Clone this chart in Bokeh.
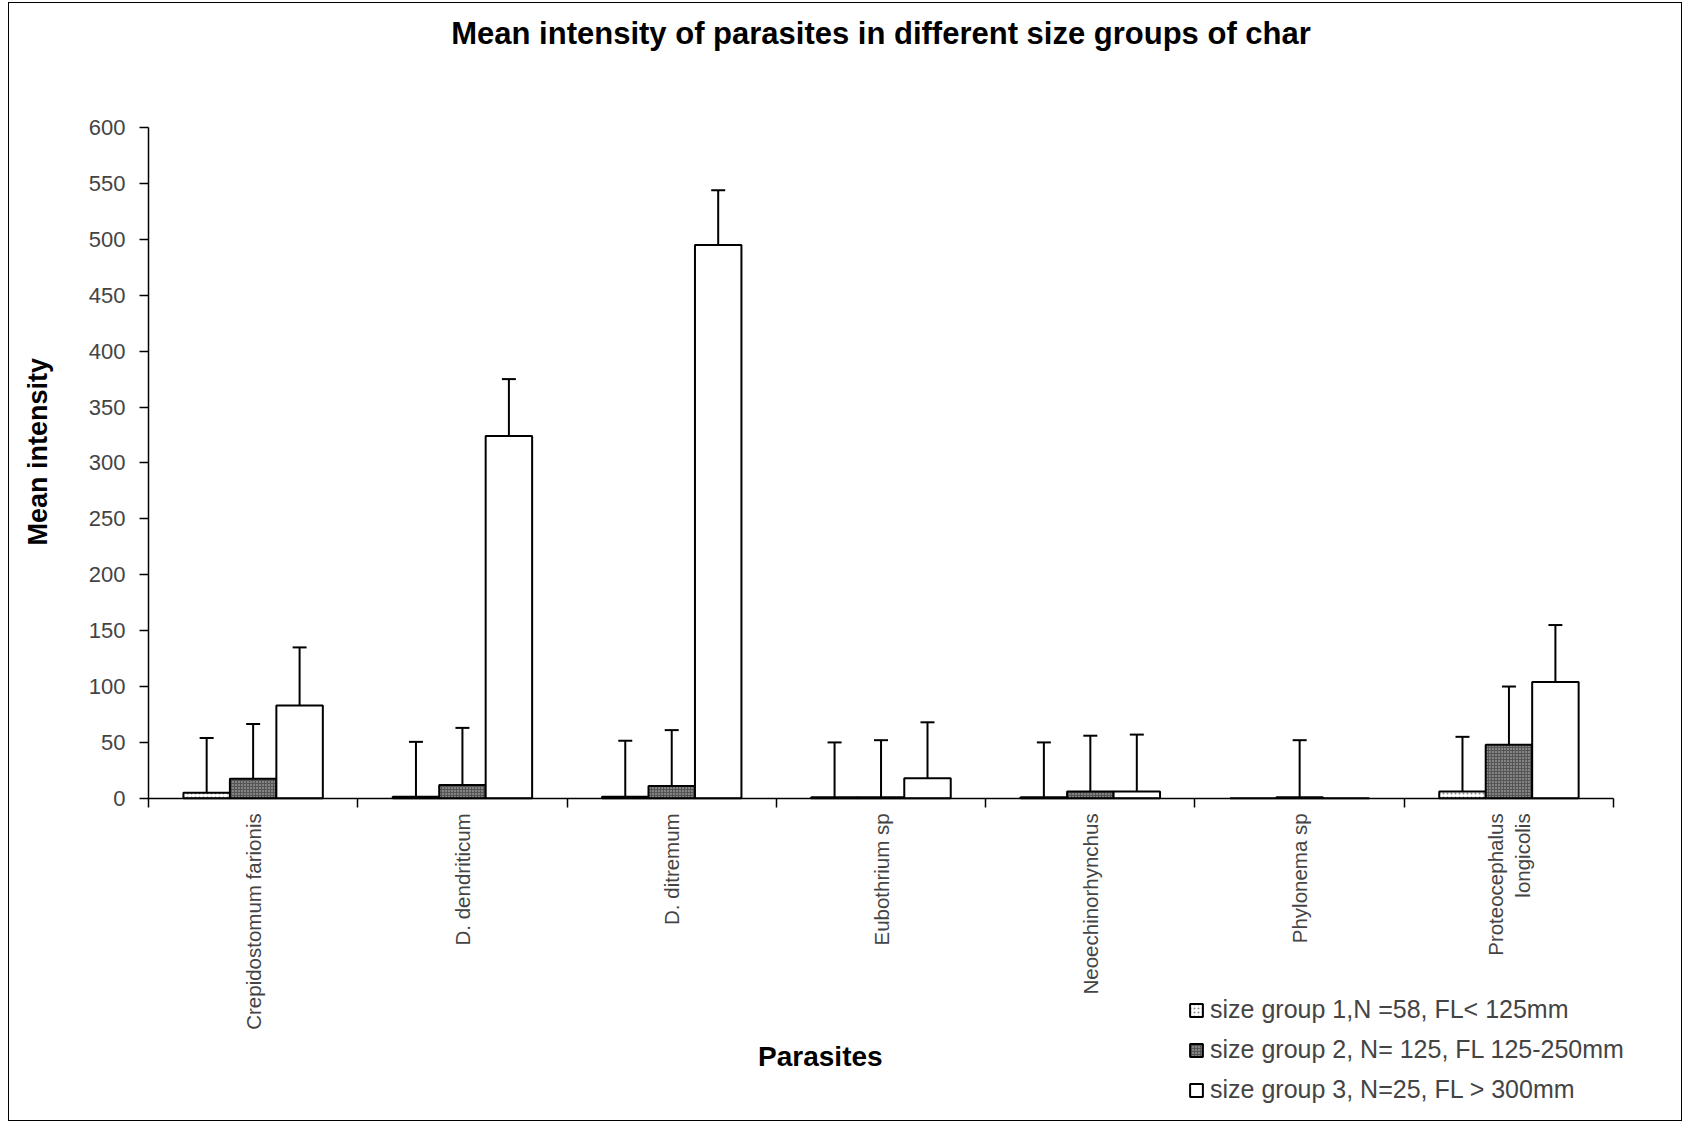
import math
from bokeh.plotting import figure
from bokeh.models import (Range1d, FixedTicker, Whisker, TeeHead, ColumnDataSource,
                          Legend, LegendItem, Label)
from bokeh.embed import file_html
from bokeh.resources import INLINE

# ---------------- data ----------------
parasites = ["Crepidostomum farionis", "D. dendriticum", "D. ditremum", "Eubothrium sp",
             "Neoechinorhynchus", "Phylonema sp", "Proteocephalus\nlongicolis"]
group_labels = ["size group 1,N =58, FL< 125mm",
                "size group 2, N= 125, FL 125-250mm",
                "size group 3, N=25, FL > 300mm"]
g1_mean = [5, 1.5, 1.5, 1, 1, 0, 6]
g2_mean = [17.5, 12, 11, 1, 6, 1, 48]
g3_mean = [83, 324, 495, 18, 6, 0, 104]
g1_err = [49, 49, 50, 49, 49, None, 49]
g2_err = [49, 51, 50, 51, 50, 51, 52]
g3_err = [52, 51, 49, 50, 51, None, 51]
y_ticks = [0, 50, 100, 150, 200, 250, 300, 350, 400, 450, 500, 550, 600]

FONT = "Liberation Sans"
n = len(parasites)

# The frame covers the whole chart area; both axes are pinned at 0 inside it so the
# title, axis titles, category labels and legend can all be placed freely.
p = figure(width=1674, height=1119, output_backend="svg", toolbar_location=None,
           x_range=Range1d(-0.664, 7.334), y_range=Range1d(-290, 711),
           min_border_left=0, min_border_right=0, min_border_top=0, min_border_bottom=0)
p.styles = {"border": "1px solid black", "margin-left": "8px", "margin-top": "2px"}
p.outline_line_color = None
p.xgrid.visible = False
p.ygrid.visible = False

bar_w = 0.222
offsets = [-bar_w, 0.0, bar_w]
means = [g1_mean, g2_mean, g3_mean]
errs = [g1_err, g2_err, g3_err]
styles = [
    dict(fill_color="white", hatch_pattern="dot", hatch_color="#8c8c8c", hatch_scale=4, hatch_weight=1),
    dict(fill_color="#555555", hatch_pattern="dot", hatch_color="#c8c8c8", hatch_scale=3, hatch_weight=1),
    dict(fill_color="white"),
]

items = []
for gi in range(3):
    xs = [i + 0.5 + offsets[gi] for i in range(n)]
    src = ColumnDataSource(dict(x=xs, top=means[gi]))
    r = p.vbar(x="x", top="top", width=bar_w, bottom=0, source=src,
               line_color="black", line_width=2, **styles[gi])
    items.append(LegendItem(label=group_labels[gi], renderers=[r]))
    wx, wl, wu = [], [], []
    for x, m, e in zip(xs, means[gi], errs[gi]):
        if e is None:
            continue
        wx.append(x); wl.append(m); wu.append(m + e)
    wsrc = ColumnDataSource(dict(base=wx, lower=wl, upper=wu))
    w = Whisker(base="base", lower="lower", upper="upper", source=wsrc, dimension="height",
                lower_head=None, upper_head=TeeHead(size=14, line_width=2, line_color="black"),
                line_width=2, line_color="black", level="glyph")
    p.add_layout(w)

# x axis, drawn at value 0
xa = p.xaxis[0]
xa.fixed_location = 0
xa.bounds = (0, n)
xa.ticker = FixedTicker(ticks=[i + 0.5 for i in range(n)], minor_ticks=list(range(n + 1)))
xa.major_label_overrides = {i + 0.5: name for i, name in enumerate(parasites)}
xa.major_label_orientation = math.pi / 2
xa.major_tick_line_color = None
xa.minor_tick_line_color = "black"
xa.minor_tick_line_width = 1.5
xa.minor_tick_out = 9
xa.minor_tick_in = 0
xa.axis_line_width = 1.5
xa.major_label_text_font = FONT
xa.major_label_text_font_size = "20.5px"
xa.major_label_standoff = 6

# y axis, drawn at category position 0
ya = p.yaxis[0]
ya.fixed_location = 0
ya.bounds = (0, 600)
ya.ticker = FixedTicker(ticks=y_ticks)
ya.minor_tick_line_color = None
ya.major_tick_out = 9
ya.major_tick_in = 0
ya.major_tick_line_width = 1.5
ya.axis_line_width = 1.5
ya.major_label_text_font = FONT
ya.major_label_text_font_size = "22px"
ya.major_label_standoff = 14

# titles
p.add_layout(Label(x=n / 2, y=684, text="Mean intensity of parasites in different size groups of char",
                   text_font=FONT, text_font_size="31px", text_font_style="bold",
                   text_align="center", text_baseline="middle", text_color="black"))
p.add_layout(Label(x=-0.53, y=310, text="Mean intensity", angle=math.pi / 2,
                   text_font=FONT, text_font_size="27px", text_font_style="bold",
                   text_align="center", text_baseline="middle", text_color="black"))
p.add_layout(Label(x=3.21, y=-231, text="Parasites",
                   text_font=FONT, text_font_size="28px", text_font_style="bold",
                   text_align="center", text_baseline="middle", text_color="black"))

legend = Legend(items=items, location=(1179, 18), orientation="vertical",
                border_line_color=None, background_fill_alpha=0, padding=0, margin=0,
                glyph_width=16, glyph_height=16, label_text_font=FONT,
                label_text_font_size="25px", label_height=25, spacing=11, label_standoff=6)
p.add_layout(legend)

open("out.html", "w").write(file_html(p, INLINE))
